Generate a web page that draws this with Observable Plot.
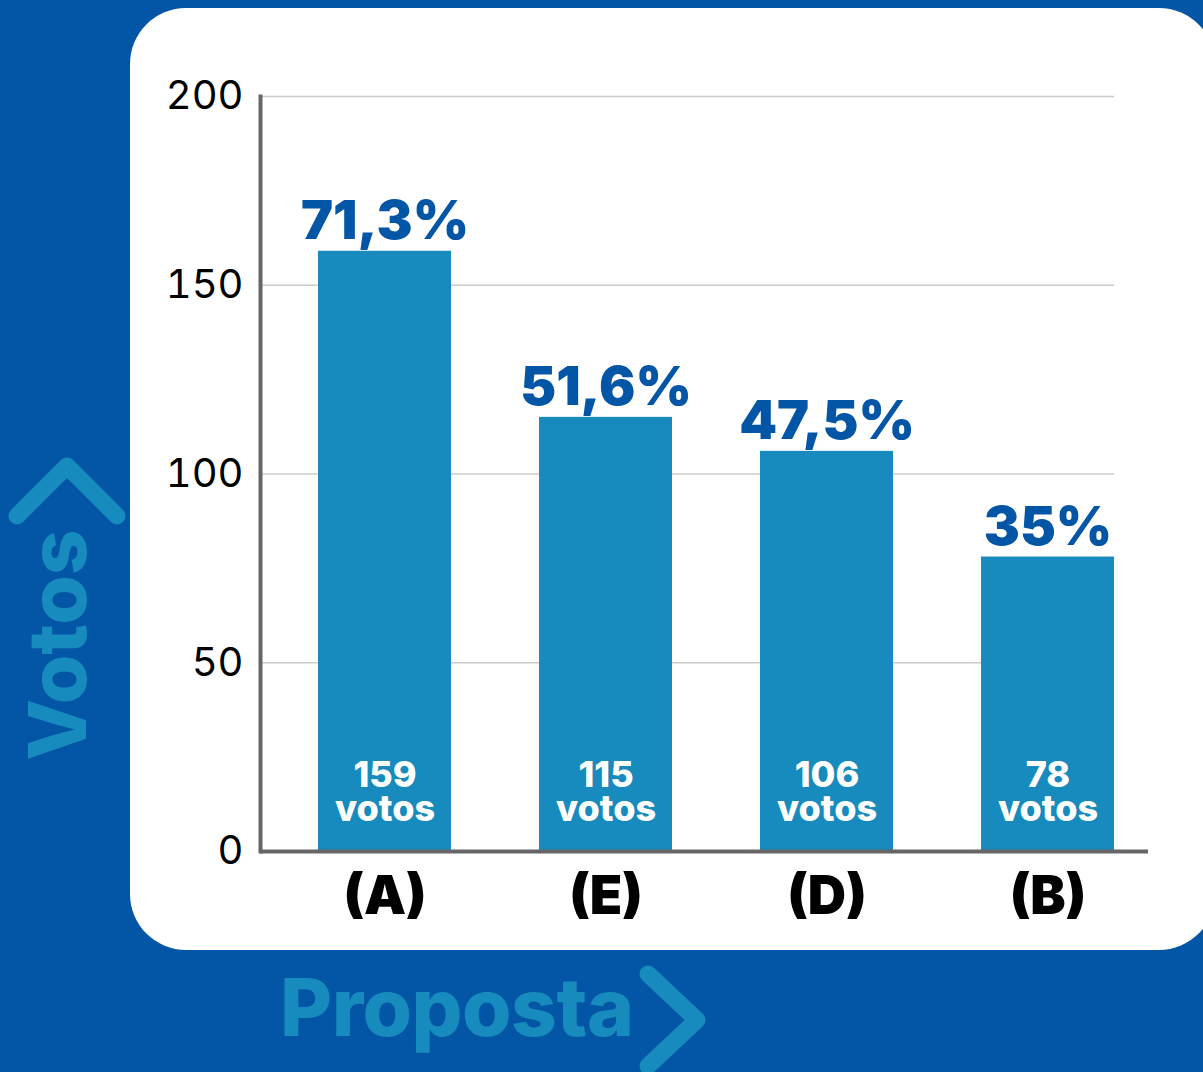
<!DOCTYPE html>
<html>
<head>
<meta charset="utf-8">
<script src="https://cdn.jsdelivr.net/npm/d3@7"></script>
<script src="https://cdn.jsdelivr.net/npm/@observablehq/plot@0.6"></script>
<style>
  html, body { margin: 0; padding: 0; }
  body { width: 1203px; height: 1072px; background: #0356A5; position: relative; overflow: hidden; font-family: Inter, "Noto Sans", sans-serif; }
  #panel { position: absolute; left: 130px; top: 8px; width: 1085px; height: 942px; background: #fff; border-radius: 56px; }
  #chart { position: absolute; left: 0; top: 0; }
  #chart svg { overflow: visible; }
  .deco { position: absolute; left: 0; top: 0; }
  #ylab { position: absolute; left: 105px; top: 645px; transform: rotate(-90deg); transform-origin: 0 0; font-weight: 800; font-size: 80px; color: #178BBD; white-space: nowrap; }
  #xlab { position: absolute; left: 280px; top: 967px; font-weight: 800; font-size: 80px; color: #178BBD; white-space: nowrap; line-height: 1; letter-spacing: -0.5px; }
</style>
</head>
<body>
<div id="panel"></div>
<div id="chart"></div>
<svg class="deco" width="1203" height="1072">
  <polyline points="17,516 67,466 117,516" fill="none" stroke="#178BBD" stroke-width="17" stroke-linecap="round" stroke-linejoin="round"/>
  <polyline points="648,974 697,1020 648,1066" fill="none" stroke="#178BBD" stroke-width="17" stroke-linecap="round" stroke-linejoin="round"/>
</svg>
<div id="xlab">Proposta</div>
<div id="ylab"><span style="display:inline-block; transform: translate(-50%, -100%);">Votos</span></div>
<script>
const categories = ["(A)", "(E)", "(D)", "(B)"];
const votes = [159, 115, 106, 78];
const percents = ["71,3%", "51,6%", "47,5%", "35%"];
const yTicks = [0, 50, 100, 150, 200];
const gridTicks = [50, 100, 150, 200];

const data = categories.map((c, i) => ({
  cat: c,
  votes: votes[i],
  pct: percents[i],
  inner: `${votes[i]}\nvotos`
}));

const chart = Plot.plot({
  width: 1203,
  height: 940,
  marginLeft: 260,
  marginRight: 55,
  marginTop: 96,
  marginBottom: 89,
  style: { background: "transparent", fontFamily: "Inter, 'Noto Sans', sans-serif", overflow: "visible" },
  x: { domain: categories, paddingInner: 0.396, paddingOuter: 0.2, align: 0.63, label: null },
  y: { domain: [0, 200], label: null },
  marks: [
    Plot.ruleY(gridTicks, { stroke: "#cccccc", strokeWidth: 1.5, insetRight: 34 }),
    Plot.barY(data, { x: "cat", y: "votes", fill: "#178BBD" }),
    Plot.ruleY([0], { stroke: "#666666", strokeWidth: 4 }),
    Plot.frame({ anchor: "left", stroke: "#666666", strokeWidth: 4 }),
    Plot.axisY({ ticks: yTicks, tickSize: 0, tickPadding: 17, fontSize: 40, fill: "#000", tickFormat: d => String(d), label: null }),
    Plot.axisX({ tickSize: 0, tickPadding: 25, fontSize: 53, fontWeight: 900, fill: "#000", label: null }),
    Plot.text(data, { x: "cat", y: "votes", text: "pct", lineAnchor: "bottom", dy: -12, fill: "#0356A5", fontSize: 54, fontWeight: 900 }),
    Plot.text(data, { x: "cat", y: 0, text: "inner", lineAnchor: "bottom", dy: -31, lineHeight: 0.92, fill: "#fff", fontSize: 36, fontWeight: 800 })
  ]
});
document.getElementById("chart").appendChild(chart);
</script>
</body>
</html>
